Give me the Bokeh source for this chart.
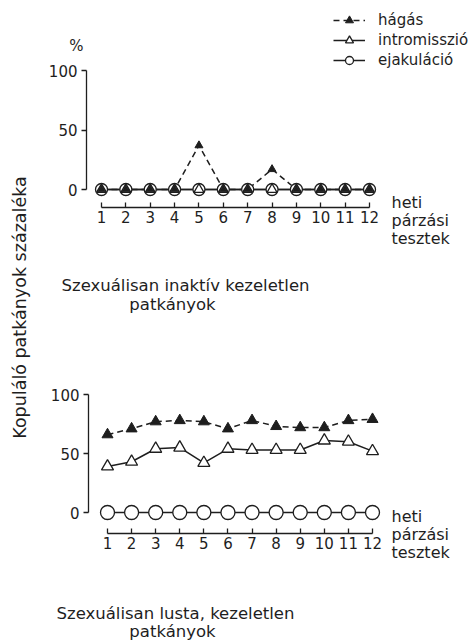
from math import pi
from bokeh.plotting import figure
from bokeh.layouts import row, column
from bokeh.models import Label, Legend, LegendItem, FixedTicker, Range1d
from bokeh.embed import file_html
from bokeh.resources import INLINE

# ---------------- data ----------------
tests = [1, 2, 3, 4, 5, 6, 7, 8, 9, 10, 11, 12]
tick_labels = ["1", "2", "3", "4", "5", "6", "7", "8", "9", "10", "11", "12"]
y_ticks = [0, 50, 100]

top_hagas = [0, 0, 0, 0, 37, 0, 0, 17, 0, 0, 0, 0]
top_intro = [0, 0, 0, 0, 0, 0, 0, 0, 0, 0, 0, 0]
top_ejak = [0, 0, 0, 0, 0, 0, 0, 0, 0, 0, 0, 0]

bot_hagas = [66, 71, 77, 78, 77, 71, 78, 73, 72, 72, 78, 79]
bot_intro = [39, 43, 54, 55, 42, 54, 53, 53, 53, 61, 60, 52]
bot_ejak = [0, 0, 0, 0, 0, 0, 0, 0, 0, 0, 0, 0]

series_names = ["hágás", "intromisszió", "ejakuláció"]
ylabel_text = "Kopuláló patkányok százaléka"
xlabel_lines = ["heti", "párzási", "tesztek"]
top_title = ["Szexuálisan inaktív kezeletlen", "patkányok"]
bot_title = ["Szexuálisan lusta, kezeletlen", "patkányok"]

FONT = "DejaVu Sans"
INK = "#1e1e1e"

STRIP_W = 40
PANEL_W = 428


class Panel:
    """A figure whose frame fills the whole figure; page pixel geometry helpers."""

    def __init__(self, page_top, height, x_px, y_px):
        # x_px: (page x of test 1, page x of test 12); y_px: (page y of 0, page y of 100)
        self.page_left = STRIP_W
        self.page_top = page_top
        self.h = height
        self.kx = (x_px[1] - x_px[0]) / 11.0
        self.ky = (y_px[0] - y_px[1]) / 100.0
        self.x1px = x_px[0]
        self.y0px = y_px[0]
        xs = self.dx(self.page_left)
        xe = self.dx(self.page_left + PANEL_W)
        ys = self.dy(page_top + height)
        ye = self.dy(page_top)
        self.p = figure(width=PANEL_W, height=height, output_backend="svg",
                        toolbar_location=None, x_range=Range1d(xs, xe),
                        y_range=Range1d(ys, ye), min_border=0)
        self.p.outline_line_color = None
        self.p.grid.visible = False

    def dx(self, px):
        return 1 + (px - self.x1px) / self.kx

    def dy(self, py):
        return (self.y0px - py) / self.ky

    def text(self, px, py, t, align="left", size="16px"):
        self.p.add_layout(Label(x=self.dx(px), y=self.dy(py), text=t, text_font=FONT,
                                text_font_size=size, text_color=INK, text_align=align,
                                text_baseline="middle"))


def build(panel, h, intro, ejak, xaxis_py, yaxis_px, sizes, legend_loc=None):
    p = panel.p
    xa = p.xaxis[0]
    xa.fixed_location = panel.dy(xaxis_py)
    xa.ticker = FixedTicker(ticks=tests)
    xa.major_label_overrides = {t: l for t, l in zip(tests, tick_labels)}
    xa.bounds = (1, 12)
    xa.major_tick_in = 5
    xa.major_tick_out = 0
    xa.minor_tick_line_color = None
    xa.major_label_standoff = 3
    ya = p.yaxis[0]
    ya.fixed_location = panel.dx(yaxis_px)
    ya.ticker = FixedTicker(ticks=y_ticks)
    ya.bounds = (0, 100)
    ya.major_tick_in = 0
    ya.major_tick_out = 5
    ya.minor_tick_line_color = None
    ya.major_label_standoff = 4
    for ax in (xa, ya):
        ax.axis_line_color = INK
        ax.axis_line_width = 1.3
        ax.major_tick_line_color = INK
        ax.major_tick_line_width = 1.3
        ax.major_label_text_font = FONT
        ax.major_label_text_font_size = "15px"
        ax.major_label_text_color = INK

    cs, ots, fts = sizes
    lh = p.line(tests, h, line_color=INK, line_width=1.5, line_dash="6 4")
    li = p.line(tests, intro, line_color=INK, line_width=1.5)
    le = p.line(tests, ejak, line_color=INK, line_width=1.5)
    se = p.scatter(tests, ejak, marker="circle", size=cs, fill_color="white",
                   line_color=INK, line_width=1.3)
    si = p.scatter(tests, intro, marker="triangle", size=ots, fill_color="white",
                   line_color=INK, line_width=1.3)
    sh = p.scatter(tests, h, marker="triangle", size=fts, fill_color=INK,
                   line_color=INK, line_width=1.0)
    if legend_loc is not None:
        lg = Legend(items=[LegendItem(label=series_names[0], renderers=[lh, sh]),
                           LegendItem(label=series_names[1], renderers=[li, si]),
                           LegendItem(label=series_names[2], renderers=[le, se])],
                    location=legend_loc, orientation="vertical",
                    glyph_width=32, glyph_height=20, label_height=20, spacing=0,
                    label_standoff=13, padding=0, margin=0,
                    label_text_font=FONT, label_text_font_size="15px",
                    label_text_color=INK, background_fill_alpha=0,
                    border_line_alpha=0)
        p.add_layout(lg, "center")


top = Panel(0, 315, (101, 369), (189, 70))
bot = Panel(315, 325, (107, 372), (512, 394))

build(top, top_hagas, top_intro, top_ejak, 207, 86, (12, 10, 8),
      legend_loc=(333 - STRIP_W, 315 - 70))
build(bot, bot_hagas, bot_intro, bot_ejak, 533, 88, (14, 12, 11))

top.text(76, 45, "%", align="center", size="15px")
for i, t in enumerate(xlabel_lines):
    top.text(391, 202 + 18 * i, t)
    bot.text(391, 516 + 18 * i, t)
top.text(185, 285, top_title[0], align="center", size="16.5px")
top.text(172, 304, top_title[1], align="center", size="16.5px")
bot.text(175, 613, bot_title[0], align="center", size="16.5px")
bot.text(172, 631, bot_title[1], align="center", size="16.5px")

# left label strip
lab = figure(width=STRIP_W, height=640, output_backend="svg", toolbar_location=None,
             x_axis_location=None, y_axis_location=None, min_border=0)
lab.outline_line_color = None
lab.grid.visible = False
lab.add_layout(Label(x=19, y=640 - 307, x_units="screen", y_units="screen", text=ylabel_text,
                     angle=pi / 2, text_font=FONT, text_font_size="17.5px", text_color=INK,
                     text_align="center", text_baseline="middle"))

layout = row(lab, column(top.p, bot.p))
open("out.html", "w").write(file_html(layout, INLINE))
